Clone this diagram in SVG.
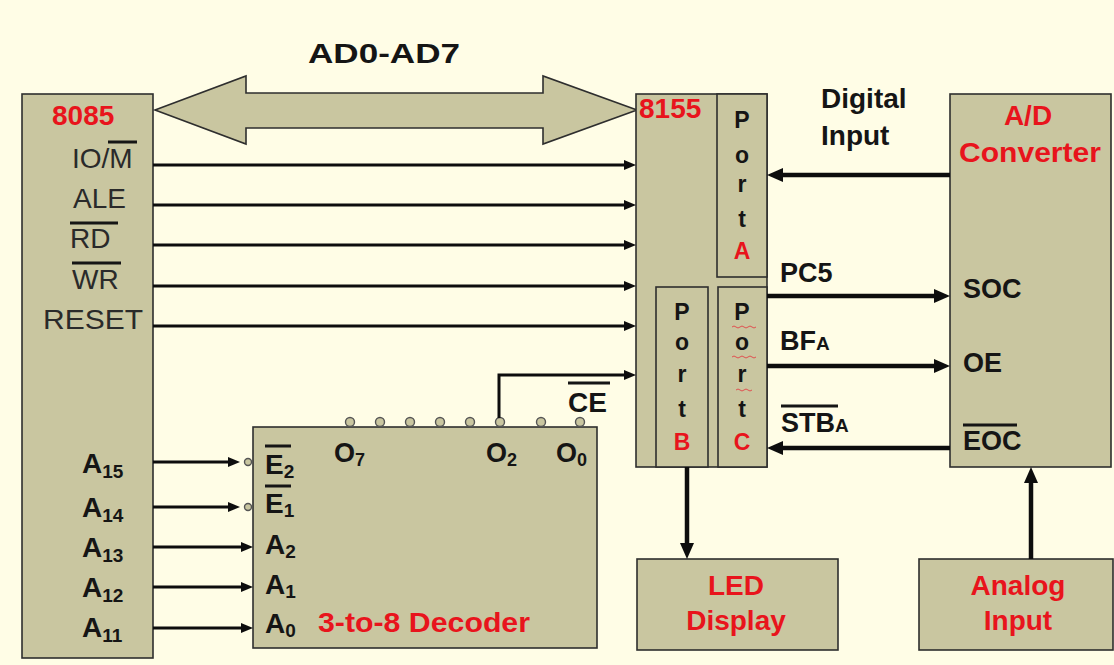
<svg xmlns="http://www.w3.org/2000/svg" width="1114" height="665" viewBox="0 0 1114 665">
<style>
.box{fill:#c9c6a0;stroke:#2e2e2e;stroke-width:1.6}
.sig{font-family:"Liberation Sans",Arial,sans-serif;font-size:28px;fill:#2a2a2a}
.b{font-family:"Liberation Sans",Arial,sans-serif;font-weight:bold;fill:#151515}
.red{font-family:"Liberation Sans",Arial,sans-serif;font-weight:bold;fill:#e8141c}
.ln{stroke:#0d0d0d;stroke-width:3;fill:none}
.lnt{stroke:#0d0d0d;stroke-width:4.5;fill:none}
.ov{stroke:#151515;stroke-width:3}
.pin{fill:#c9c6a0;stroke:#555;stroke-width:1.4}
.wav{fill:none;stroke:#e05050;stroke-width:1}
</style>
<defs>
<marker id="ah" markerUnits="userSpaceOnUse" markerWidth="14" markerHeight="12" refX="4" refY="5" orient="auto">
<path d="M0,0 L12,5 L0,10 z" fill="#0d0d0d"/>
</marker>
<marker id="ahb" markerUnits="userSpaceOnUse" markerWidth="18" markerHeight="16" refX="5" refY="7" orient="auto">
<path d="M0,0 L16,7 L0,14 z" fill="#0d0d0d"/>
</marker>
</defs>
<rect x="0" y="0" width="1114" height="665" fill="#fffde6"/>

<text class="b" x="308" y="63" font-size="28" textLength="152" lengthAdjust="spacingAndGlyphs">AD0-AD7</text>

<g id="bus">
<polygon class="box" points="155,110 246,76 246,93 543,93 543,76 637,110 543,144 543,128 246,128 246,144"/>
</g>

<g id="n8085">
<rect class="box" x="22" y="94" width="131" height="564"/>
<text class="red" x="52" y="125" font-size="28">8085</text>
<text class="sig" x="72" y="168">IO/M</text>
<line class="ov" x1="108" y1="142" x2="137" y2="142"/>
<text class="sig" x="73" y="208">ALE</text>
<text class="sig" x="70" y="248">RD</text>
<line class="ov" x1="70" y1="223" x2="118" y2="223"/>
<text class="sig" x="72" y="289">WR</text>
<line class="ov" x1="72" y1="263" x2="121" y2="263"/>
<text class="sig" x="43" y="329" textLength="100" lengthAdjust="spacingAndGlyphs">RESET</text>
<text class="b" x="82" y="473" font-size="28">A<tspan font-size="19" dy="5">15</tspan></text>
<text class="b" x="82" y="517" font-size="28">A<tspan font-size="19" dy="5">14</tspan></text>
<text class="b" x="82" y="557" font-size="28">A<tspan font-size="19" dy="5">13</tspan></text>
<text class="b" x="82" y="597" font-size="28">A<tspan font-size="19" dy="5">12</tspan></text>
<text class="b" x="82" y="637" font-size="28">A<tspan font-size="19" dy="5">11</tspan></text>
</g>

<g id="decoder">
<rect class="box" x="253" y="427" width="344" height="221"/>
<circle class="pin" cx="350" cy="422" r="4.5"/>
<circle class="pin" cx="380" cy="422" r="4.5"/>
<circle class="pin" cx="410" cy="422" r="4.5"/>
<circle class="pin" cx="440" cy="422" r="4.5"/>
<circle class="pin" cx="470" cy="422" r="4.5"/>
<circle class="pin" cx="500" cy="422" r="4.5"/>
<circle class="pin" cx="541" cy="422" r="4.5"/>
<circle class="pin" cx="580" cy="422" r="4.5"/>
<circle class="pin" cx="248" cy="462" r="3.5"/>
<circle class="pin" cx="248" cy="507" r="3.5"/>
<text class="b" x="334" y="462" font-size="27">O<tspan font-size="18" dy="4">7</tspan></text>
<text class="b" x="486" y="462" font-size="27">O<tspan font-size="18" dy="4">2</tspan></text>
<text class="b" x="556" y="462" font-size="27">O<tspan font-size="18" dy="4">0</tspan></text>
<text class="b" x="265" y="474" font-size="28">E<tspan font-size="19" dy="4">2</tspan></text>
<line class="ov" x1="265" y1="446" x2="291" y2="446"/>
<text class="b" x="265" y="513" font-size="28">E<tspan font-size="19" dy="4">1</tspan></text>
<line class="ov" x1="265" y1="486" x2="291" y2="486"/>
<text class="b" x="265" y="554" font-size="28">A<tspan font-size="19" dy="4">2</tspan></text>
<text class="b" x="265" y="594" font-size="28">A<tspan font-size="19" dy="4">1</tspan></text>
<text class="b" x="265" y="633" font-size="28">A<tspan font-size="19" dy="4">0</tspan></text>
<text class="red" x="318" y="632" font-size="28" textLength="212" lengthAdjust="spacingAndGlyphs">3-to-8 Decoder</text>
</g>

<g id="n8155">
<rect class="box" x="636" y="94" width="131" height="373"/>
<rect class="box" x="717" y="94" width="50" height="183"/>
<rect class="box" x="656" y="287" width="52" height="180"/>
<rect class="box" x="718" y="287" width="49" height="180"/>
<text class="red" x="639" y="118" font-size="28">8155</text>
<g class="b" font-size="23" text-anchor="middle">
<text x="742" y="128">P</text>
<text x="742" y="163">o</text>
<text x="742" y="192">r</text>
<text x="742" y="227">t</text>
<text x="682" y="320">P</text>
<text x="682" y="350">o</text>
<text x="682" y="382">r</text>
<text x="682" y="417">t</text>
<text x="742" y="320">P</text>
<text x="742" y="350">o</text>
<text x="742" y="382">r</text>
<text x="742" y="417">t</text>
</g>
<g class="red" font-size="23" text-anchor="middle">
<text x="742" y="259">A</text>
<text x="682" y="450">B</text>
<text x="742" y="450">C</text>
</g>
<path class="wav" d="M732,327 q2,-2 4,0 t4,0 t4,0 t4,0 t4,0 t4,0"/>
<path class="wav" d="M732,357 q2,-2 4,0 t4,0 t4,0 t4,0 t4,0 t4,0"/>
<path class="wav" d="M736,390 q2,-2 4,0 t4,0 t4,0 t4,0"/>
</g>

<g id="adc">
<rect class="box" x="950" y="94" width="161" height="373"/>
<text class="red" x="1028" y="125" font-size="28" text-anchor="middle">A/D</text>
<text class="red" x="1030" y="162" font-size="28" text-anchor="middle" textLength="142" lengthAdjust="spacingAndGlyphs">Converter</text>
<text class="b" x="963" y="298" font-size="27">SOC</text>
<text class="b" x="963" y="372" font-size="27">OE</text>
<text class="b" x="963" y="450" font-size="27">EOC</text>
<line class="ov" x1="963" y1="425" x2="1017" y2="425"/>
</g>

<g id="led">
<rect class="box" x="637" y="559" width="201" height="91"/>
<text class="red" x="736" y="595" font-size="28" text-anchor="middle">LED</text>
<text class="red" x="736" y="630" font-size="28" text-anchor="middle">Display</text>
</g>

<g id="analog">
<rect class="box" x="919" y="559" width="194" height="91"/>
<text class="red" x="1018" y="595" font-size="28" text-anchor="middle">Analog</text>
<text class="red" x="1018" y="630" font-size="28" text-anchor="middle">Input</text>
</g>

<g id="labels">
<text class="b" x="821" y="108" font-size="28">Digital</text>
<text class="b" x="821" y="145" font-size="28">Input</text>
<text class="b" x="780" y="282" font-size="27">PC5</text>
<text class="b" x="780" y="350" font-size="27">BF<tspan font-size="19">A</tspan></text>
<text class="b" x="781" y="432" font-size="27">STB<tspan font-size="19">A</tspan></text>
<line class="ov" x1="781" y1="406" x2="838" y2="406"/>
<text class="b" x="568" y="412" font-size="28">CE</text>
<line class="ov" x1="568" y1="383" x2="610" y2="383"/>
</g>

<g id="connectors">
<line class="ln" x1="153" y1="165" x2="628" y2="165" marker-end="url(#ah)"/>
<line class="ln" x1="153" y1="205" x2="628" y2="205" marker-end="url(#ah)"/>
<line class="ln" x1="153" y1="245" x2="628" y2="245" marker-end="url(#ah)"/>
<line class="ln" x1="153" y1="286" x2="628" y2="286" marker-end="url(#ah)"/>
<line class="ln" x1="153" y1="326" x2="628" y2="326" marker-end="url(#ah)"/>
<polyline class="ln" points="499,418 499,375 628,375" marker-end="url(#ah)"/>
<line class="ln" x1="153" y1="462" x2="232" y2="462" marker-end="url(#ah)"/>
<line class="ln" x1="153" y1="507" x2="232" y2="507" marker-end="url(#ah)"/>
<line class="ln" x1="153" y1="547" x2="245" y2="547" marker-end="url(#ah)"/>
<line class="ln" x1="153" y1="587" x2="245" y2="587" marker-end="url(#ah)"/>
<line class="ln" x1="153" y1="628" x2="245" y2="628" marker-end="url(#ah)"/>
<line class="lnt" x1="950" y1="175" x2="778" y2="175" marker-end="url(#ahb)"/>
<line class="lnt" x1="767" y1="296" x2="939" y2="296" marker-end="url(#ahb)"/>
<line class="lnt" x1="767" y1="366" x2="939" y2="366" marker-end="url(#ahb)"/>
<line class="lnt" x1="950" y1="448" x2="778" y2="448" marker-end="url(#ahb)"/>
<line class="lnt" x1="687" y1="467" x2="687" y2="548" marker-end="url(#ahb)"/>
<line class="lnt" x1="1031" y1="559" x2="1031" y2="478" marker-end="url(#ahb)"/>
</g>
</svg>
